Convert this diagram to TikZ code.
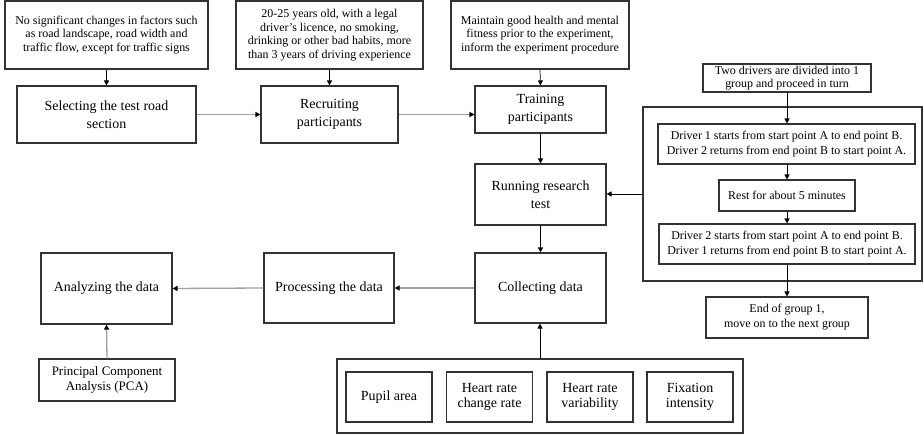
\documentclass[tikz,border=0pt]{standalone}
\usepackage{fontspec}
\setmainfont{Liberation Serif}
\usetikzlibrary{arrows.meta}
\definecolor{boxc}{HTML}{333333}
\definecolor{harrc}{HTML}{A0A0A0}
\begin{document}
\begin{tikzpicture}[x=1bp,y=-1bp,
  box/.style={draw=boxc, line width=1.1bp, inner sep=0pt, align=center, text=black},
  big/.style={font=\fontsize{14}{18}\selectfont},
  small/.style={font=\fontsize{12}{13.5}\selectfont},
  mid/.style={font=\fontsize{12}{15}\selectfont},
  tight/.style={font=\fontsize{12}{13}\selectfont},
  pcaf/.style={font=\fontsize{13}{15}\selectfont},
  meas/.style={font=\fontsize{14}{15}\selectfont},
  harr/.style={draw=harrc, line width=1.3bp, -{Triangle[length=5bp,width=5bp,color=black]}},
  varr/.style={draw=black, line width=0.7bp, -{Triangle[length=5bp,width=5bp]}},
]
\useasboundingbox (0,0) rectangle (924,435);

% top descriptions
\node[box, small, minimum width=203bp, minimum height=68bp] (t1) at (106.5,35)
  {No significant changes in factors such\\as road landscape, road width and\\traffic flow, except for traffic signs};
\node[box, small, minimum width=187bp, minimum height=68bp] (t2) at (329.5,35)
  {20-25 years old, with a legal\\driver's licence, no smoking,\\drinking or other bad habits, more\\than 3 years of driving experience};
\node[box, small, minimum width=178bp, minimum height=68bp] (t3) at (540,35)
  {Maintain good health and mental\\fitness prior to the experiment,\\inform the experiment procedure};

% main steps
\node[box, big, minimum width=179bp, minimum height=57bp] (sel) at (106.5,114.5)
  {Selecting the test road\\section};
\node[box, big, minimum width=137bp, minimum height=57bp] (rec) at (329.5,114.5)
  {Recruiting\\participants};
\node[box, big, minimum width=131bp, minimum height=47bp] (tra) at (540.5,109.5)
  {Training\\participants};
\node[box, big, minimum width=131bp, minimum height=61bp] (run) at (540.5,194.5)
  {Running research\\test};
\node[box, big, minimum width=131bp, minimum height=70bp] (col) at (540.5,288)
  {Collecting data};
\node[box, big, minimum width=130bp, minimum height=70bp] (pro) at (329,288)
  {Processing the data};
\node[box, big, minimum width=131bp, minimum height=71bp] (ana) at (106.5,288.5)
  {Analyzing the data};
\node[box, pcaf, minimum width=136bp, minimum height=42bp] (pca) at (107,380)
  {Principal Component\\Analysis (PCA)};

% measures
\node[box, minimum width=406bp, minimum height=74bp] (bc) at (540,396) {};
\node[box, meas, minimum width=86bp, minimum height=50bp] (pup) at (389,397) {Pupil area};
\node[box, meas, minimum width=86bp, minimum height=50bp] (hrc) at (489.5,397) {Heart rate\\change rate};
\node[box, meas, minimum width=86bp, minimum height=50bp] (hrv) at (590,397) {Heart rate\\variability};
\node[box, meas, minimum width=86bp, minimum height=50bp] (fix) at (690,397) {Fixation\\intensity};

% driver procedure
\node[box, tight, minimum width=168bp, minimum height=28bp] (drv) at (787,78)
  {Two drivers are divided into 1\\group and proceed in turn};
\node[box, minimum width=279bp, minimum height=174bp] (cont) at (782.5,194) {};
\node[box, mid, minimum width=257bp, minimum height=40bp] (d1) at (786.5,144)
  {Driver 1 starts from start point A to end point B.\\Driver 2 returns from end point B to start point A.};
\node[box, mid, minimum width=136bp, minimum height=31bp] (rest) at (787,195.5)
  {Rest for about 5 minutes};
\node[box, mid, minimum width=256bp, minimum height=40bp] (d2) at (787,244)
  {Driver 2 starts from start point A to end point B.\\Driver 1 returns from end point B to start point A.};
\node[box, mid, minimum width=162bp, minimum height=41bp] (end) at (787,317.5)
  {End of group 1,\\move on to the next group};

% connectors
\draw[varr] (t1.south) -- (sel.north);
\draw[varr] (t2.south) -- (rec.north);
\draw[varr] (t3.south) -- (tra.north);
\draw[harr] (sel.east) -- (rec.west);
\draw[harr] (rec.east) -- (rec.east -| tra.west);
\draw[varr] (tra.south) -- (run.north);
\draw[varr] (run.south) -- (col.north);
\draw[varr] (cont.west) -- (cont.west -| run.east);
\draw[harr] (col.west) -- (pro.east);
\draw[harr] (pro.west) -- (ana.east);
\draw[harr] (pca.north) -- (ana.south);
\draw[varr] (bc.north) -- (bc.north |- col.south);
\draw[varr] (drv.south) -- (drv.south |- d1.north);
\draw[varr] (d1.south -| rest.north) -- (rest.north);
\draw[varr] (rest.south) -- (rest.south |- d2.north);
\draw[varr] (d2.south) -- (end.north);
\end{tikzpicture}
\end{document}
